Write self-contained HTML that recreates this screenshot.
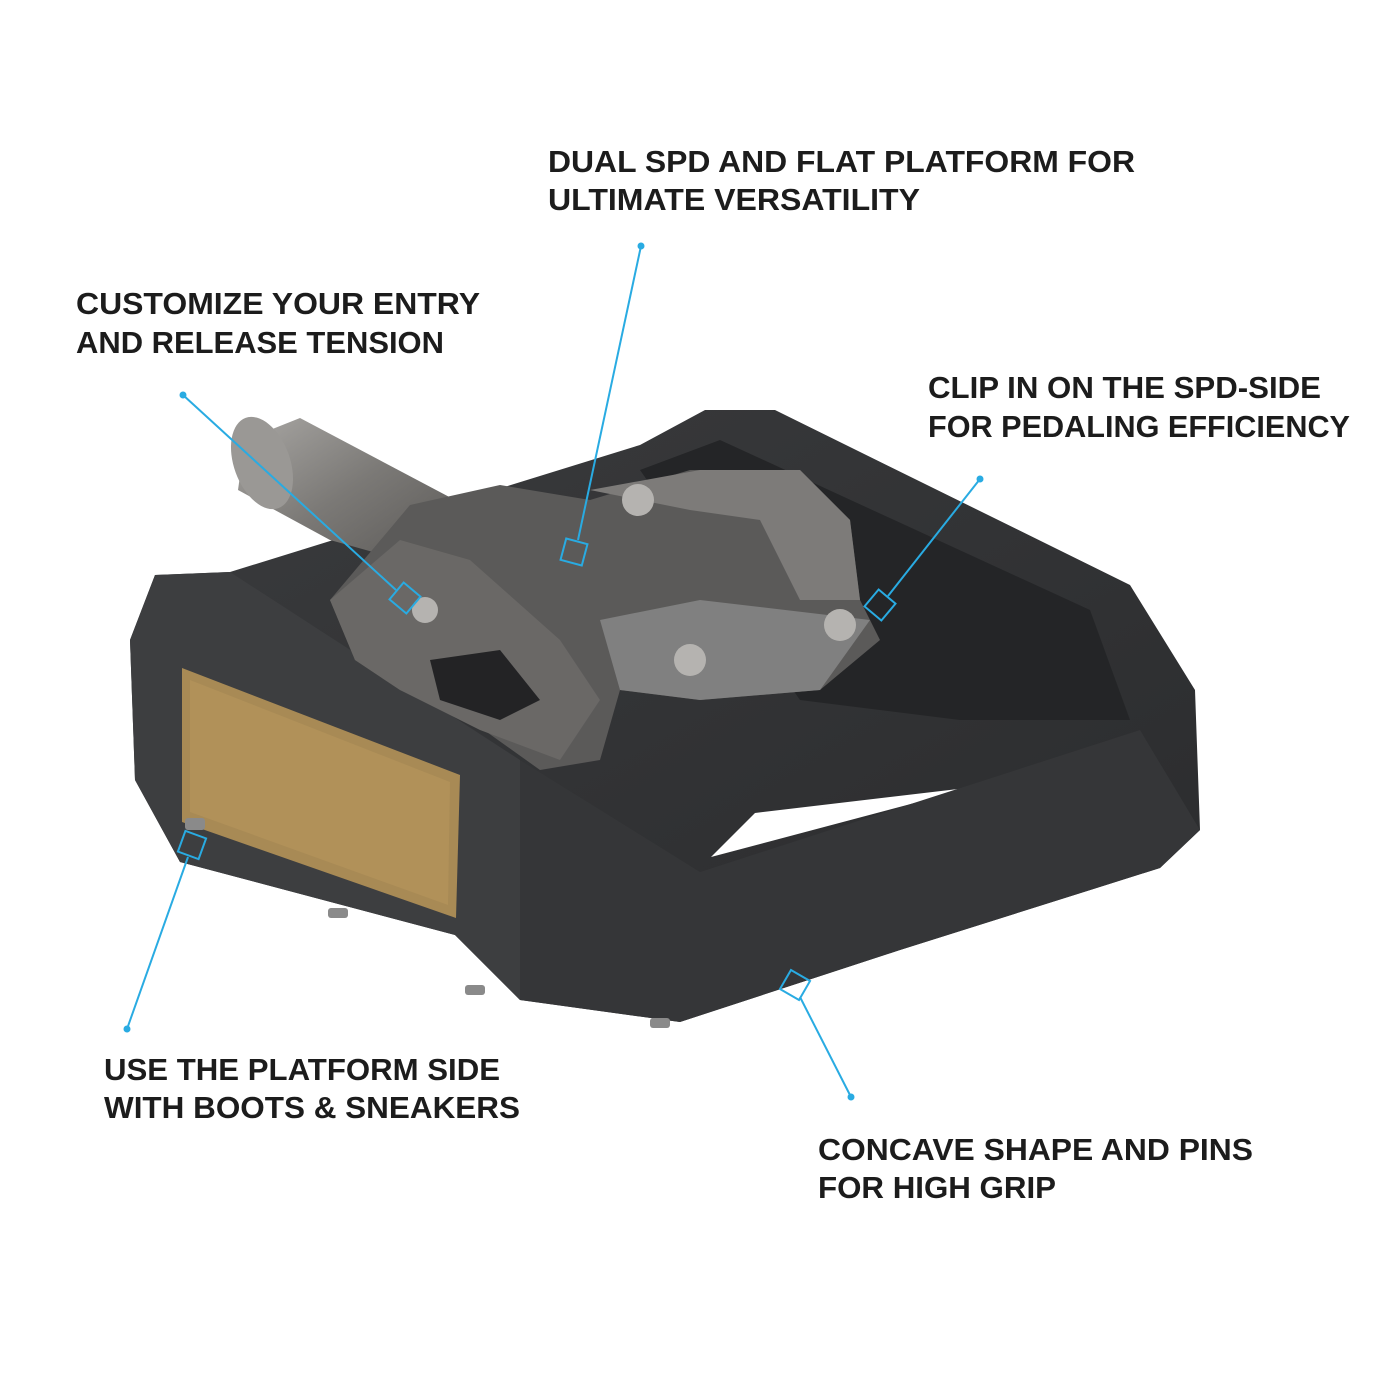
<!DOCTYPE html>
<html><head><meta charset="utf-8"><style>
html,body{margin:0;padding:0;background:#fff;}
svg{display:block;}
text{font-family:"Liberation Sans",sans-serif;font-weight:bold;fill:#1c1c1c;font-size:31px;}
</style></head><body>
<svg width="1400" height="1400" viewBox="0 0 1400 1400">
<defs>
<linearGradient id="ax" x1="0" y1="0" x2="1" y2="1">
<stop offset="0" stop-color="#a9a7a4"/><stop offset="0.5" stop-color="#7b7976"/><stop offset="1" stop-color="#5a5856"/>
</linearGradient>
<linearGradient id="body" x1="0" y1="0" x2="1" y2="1">
<stop offset="0" stop-color="#3a3b3d"/><stop offset="1" stop-color="#2a2b2d"/>
</linearGradient>
</defs>
<!-- platform frame -->
<polygon points="130,640 155,575 230,572 640,445 705,410 775,410 1130,585 1195,690 1200,830 1160,868 900,950 680,1022 520,1000 455,935 180,862 135,780" fill="url(#body)"/>
<polygon points="640,470 720,440 1090,610 1130,720 960,720 800,700" fill="#242527"/>
<!-- inner opening -->
<polygon points="711,857 755,813 975,787" fill="#fff"/>
<!-- front face lighter -->
<polygon points="130,640 155,575 230,572 520,760 520,1000 455,935 180,862 135,780" fill="#3d3e40"/>
<polygon points="520,760 700,872 1140,730 1200,830 1160,868 900,950 680,1022 520,1000" fill="#353638"/>
<!-- reflector -->
<polygon points="182,668 460,775 456,918 182,822" fill="#a88a55"/>
<polygon points="190,680 450,782 448,905 190,812" fill="#b8965c" opacity="0.6"/>
<!-- axle -->
<polygon points="245,440 300,418 455,500 420,565 330,540 238,490" fill="url(#ax)"/>
<ellipse cx="262" cy="463" rx="28" ry="48" transform="rotate(-20 262 463)" fill="#9a9895"/>
<!-- mechanism -->
<polygon points="410,505 500,485 590,500 690,470 800,470 850,520 860,600 880,640 820,690 700,700 620,690 600,760 540,770 470,720 400,690 355,660 330,600" fill="#5b5a59"/>
<polygon points="590,490 700,470 800,470 850,520 860,600 800,600 760,520 690,510" fill="#7d7b79"/>
<polygon points="330,600 400,540 470,560 560,640 600,700 560,760 480,730 400,690 355,660" fill="#6a6866"/>
<polygon points="430,660 500,650 540,700 500,720 440,700" fill="#232325"/>
<polygon points="600,620 700,600 870,620 820,690 700,700 620,690" fill="#808080"/>
<circle cx="638" cy="500" r="16" fill="#b5b3b0"/>
<circle cx="690" cy="660" r="16" fill="#b5b3b0"/>
<circle cx="840" cy="625" r="16" fill="#b5b3b0"/>
<circle cx="425" cy="610" r="13" fill="#b5b3b0"/>
<!-- pins -->
<rect x="328" y="908" width="20" height="10" rx="3" fill="#8a8a8a"/>
<rect x="465" y="985" width="20" height="10" rx="3" fill="#8a8a8a"/>
<rect x="650" y="1018" width="20" height="10" rx="3" fill="#8a8a8a"/>
<rect x="185" y="818" width="20" height="12" rx="3" fill="#8a8a8a"/>
<!-- callout lines -->
<g stroke="#29abe2" stroke-width="2" fill="none">
<line x1="641" y1="246" x2="578" y2="540"/>
<rect x="563" y="541" width="22" height="22" transform="rotate(15 574 552)"/>
<line x1="183" y1="395" x2="396" y2="590"/>
<rect x="394" y="587" width="22" height="22" transform="rotate(40 405 598)"/>
<line x1="980" y1="479" x2="888" y2="596"/>
<rect x="869" y="594" width="22" height="22" transform="rotate(40 880 605)"/>
<line x1="127" y1="1029" x2="188" y2="857"/>
<rect x="181" y="834" width="22" height="22" transform="rotate(20 192 845)"/>
<line x1="851" y1="1097" x2="800" y2="997"/>
<rect x="784" y="974" width="22" height="22" transform="rotate(30 795 985)"/>
</g>
<g fill="#29abe2">
<circle cx="641" cy="246" r="3.5"/><circle cx="183" cy="395" r="3.5"/>
<circle cx="980" cy="479" r="3.5"/><circle cx="127" cy="1029" r="3.5"/>
<circle cx="851" cy="1097" r="3.5"/>
</g>
<!-- labels -->
<text x="548" y="172" textLength="587" lengthAdjust="spacingAndGlyphs">DUAL SPD AND FLAT PLATFORM FOR</text>
<text x="548" y="210" textLength="372" lengthAdjust="spacingAndGlyphs">ULTIMATE VERSATILITY</text>
<text x="76" y="314" textLength="404" lengthAdjust="spacingAndGlyphs">CUSTOMIZE YOUR ENTRY</text>
<text x="76" y="353" textLength="368" lengthAdjust="spacingAndGlyphs">AND RELEASE TENSION</text>
<text x="928" y="398" textLength="393" lengthAdjust="spacingAndGlyphs">CLIP IN ON THE SPD-SIDE</text>
<text x="928" y="437" textLength="422" lengthAdjust="spacingAndGlyphs">FOR PEDALING EFFICIENCY</text>
<text x="104" y="1080" textLength="396" lengthAdjust="spacingAndGlyphs">USE THE PLATFORM SIDE</text>
<text x="104" y="1118" textLength="416" lengthAdjust="spacingAndGlyphs">WITH BOOTS &amp; SNEAKERS</text>
<text x="818" y="1160" textLength="435" lengthAdjust="spacingAndGlyphs">CONCAVE SHAPE AND PINS</text>
<text x="818" y="1198" textLength="238" lengthAdjust="spacingAndGlyphs">FOR HIGH GRIP</text>
</svg>
</body></html>
